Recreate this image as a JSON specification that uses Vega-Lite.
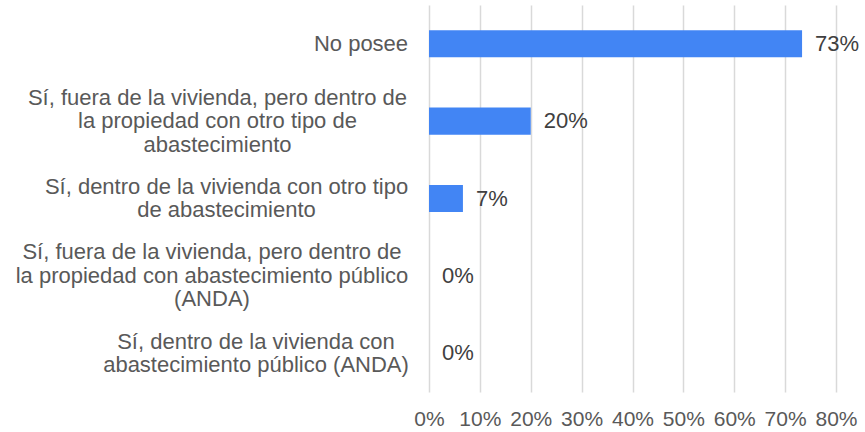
{
  "$schema": "https://vega.github.io/schema/vega-lite/v6.json",
  "width": 407,
  "height": 387,
  "autosize": {"type": "none"},
  "padding": {"left": 429, "top": 5, "right": 29, "bottom": 40},
  "background": "white",
  "data": {
    "values": [
      {"categoria": "No posee", "valor": 0.7333},
      {"categoria": "Sí, fuera de la vivienda, pero dentro de|la propiedad con otro tipo de|abastecimiento", "valor": 0.2},
      {"categoria": "Sí, dentro de la vivienda con otro tipo|de abastecimiento", "valor": 0.0667},
      {"categoria": "Sí, fuera de la vivienda, pero dentro de|la propiedad con abastecimiento público|(ANDA)", "valor": 0},
      {"categoria": "Sí, dentro de la vivienda con|abastecimiento público (ANDA)", "valor": 0}
    ]
  },
  "encoding": {
    "y": {
      "field": "categoria",
      "type": "nominal",
      "sort": null,
      "scale": {"paddingInner": 0.65, "paddingOuter": 0.325},
      "axis": {
        "title": null,
        "domain": false,
        "ticks": false,
        "labelAlign": "center",
        "labelBaseline": "middle",
        "labelPadding": {
          "condition": [
            {"test": "datum.value == 'No posee'", "value": 68.5},
            {"test": "indexof(datum.value, 'otro tipo de|') >= 0", "value": 212},
            {"test": "indexof(datum.value, 'otro tipo|de') >= 0", "value": 203},
            {"test": "indexof(datum.value, 'público|(ANDA)') >= 0", "value": 217.5}
          ],
          "value": 173.5
        },
        "labelExpr": "split(datum.label, '|')",
        "labelFont": "Liberation Sans",
        "labelFontSize": 22,
        "labelLineHeight": 23.5,
        "labelColor": "#595959",
        "labelLimit": 0,
        "labelOffset": {
          "condition": [
            {"test": "length(split(datum.value, '|')) == 3", "value": -23.5},
            {"test": "length(split(datum.value, '|')) == 2", "value": -11.75}
          ],
          "value": 0
        }
      }
    },
    "x": {
      "field": "valor",
      "type": "quantitative",
      "scale": {"domain": [0, 0.8], "nice": false},
      "axis": {
        "title": null,
        "format": ".0%",
        "values": [0, 0.1, 0.2, 0.3, 0.4, 0.5, 0.6, 0.7, 0.8],
        "labelOverlap": false,
        "labelFlush": false,
        "domain": false,
        "ticks": false,
        "grid": true,
        "gridColor": "#d9d9d9",
        "gridWidth": 1.5,
        "labelFont": "Liberation Sans",
        "labelFontSize": 21,
        "labelColor": "#595959",
        "labelPadding": 16
      }
    }
  },
  "layer": [
    {
      "mark": {"type": "bar", "color": "#4285F4"}
    },
    {
      "mark": {
        "type": "text",
        "align": "left",
        "dx": 13,
        "font": "Liberation Sans",
        "fontSize": 22,
        "color": "#404040"
      },
      "encoding": {
        "text": {"field": "valor", "type": "quantitative", "format": ".0%"}
      }
    }
  ],
  "config": {"view": {"stroke": null}}
}
